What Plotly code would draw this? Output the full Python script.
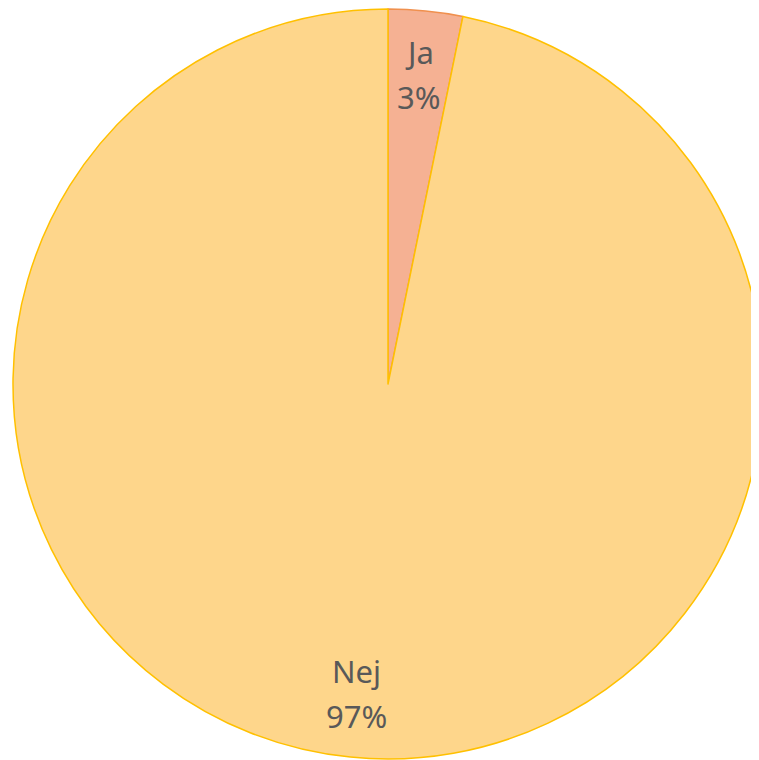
import math
import plotly.graph_objects as go

labels = ["Ja", "Nej"]
values = [3.2, 96.8]
fill_colors = ["#F5B193", "#FED68B"]
line_colors = ["#F0904E", "#FFC000"]

W, H = 759, 760
dom_x = [5 / W, 755 / W]
dom_y = [9 / H, 759 / H]

fig = go.Figure(go.Pie(
    labels=labels,
    values=values,
    sort=False,
    direction="clockwise",
    rotation=0,
    marker=dict(colors=fill_colors, line=dict(color=line_colors, width=1.5)),
    textinfo="none",
    hoverinfo="label+percent",
    domain=dict(x=dom_x, y=dom_y),
    showlegend=False,
))

# label positions derived from the data (mid-angle of each slice)
cx = (dom_x[0] + dom_x[1]) / 2 * W
cy = (dom_y[0] + dom_y[1]) / 2 * H
R = min((dom_x[1] - dom_x[0]) * W, (dom_y[1] - dom_y[0]) * H) / 2
total = sum(values)
cum = 0.0
annotations = []
font = dict(family="Noto Sans", size=31, color="#595959")
for lab, v in zip(labels, values):
    mid = (cum + v / 2) / total * 2 * math.pi
    cum += v
    r = 0.83 * R
    px = cx + r * math.sin(mid)
    py = cy + r * math.cos(mid)
    for txt, dy in ((lab, 22.5), (f"{round(v / total * 100)}%", -22.5)):
        annotations.append(dict(
            x=px / W, y=(py + dy) / H, xref="paper", yref="paper",
            text=txt, showarrow=False, xanchor="center", yanchor="middle",
            font=font,
        ))

fig.update_layout(
    width=W, height=H,
    margin=dict(l=0, r=0, t=0, b=0),
    paper_bgcolor="white",
    plot_bgcolor="white",
    annotations=annotations,
)

fig.write_html("out.html")
